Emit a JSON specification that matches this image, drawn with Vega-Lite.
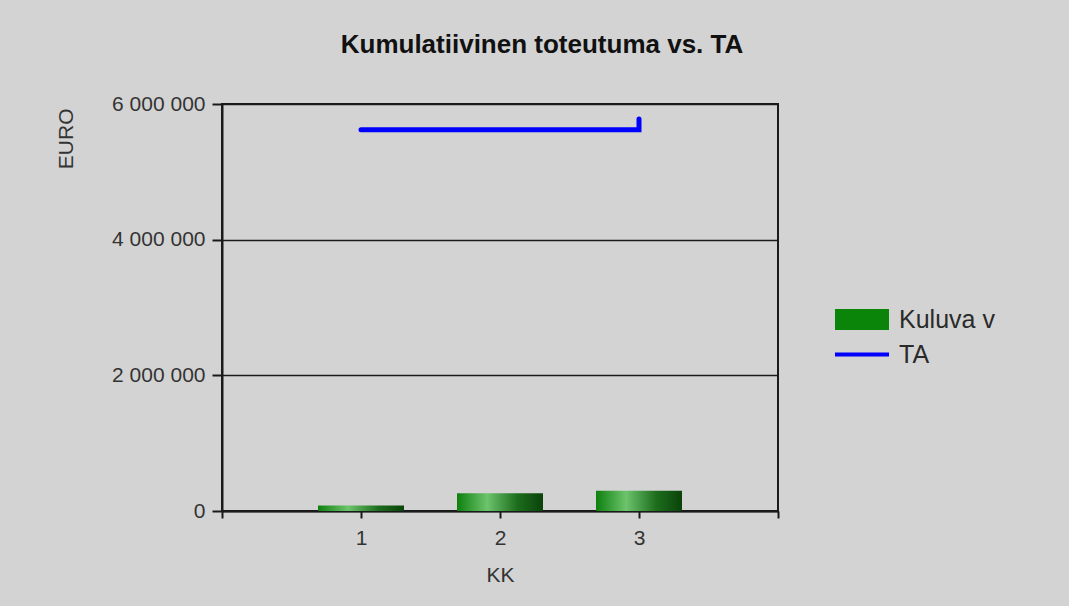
{
  "$schema": "https://vega.github.io/schema/vega-lite/v6.json",
  "autosize": "none",
  "width": 556,
  "height": 407,
  "padding": {"left": 222, "top": 104, "right": 291, "bottom": 95},
  "background": "#d3d3d3",
  "title": {
    "text": "Kumulatiivinen toteutuma vs. TA",
    "font": "Liberation Sans",
    "fontSize": 26,
    "fontWeight": "bold",
    "color": "#111111",
    "anchor": "middle",
    "dx": 42,
    "baseline": "alphabetic",
    "offset": 14
  },
  "config": {
    "locale": {"number": {"decimal": ",", "thousands": " ", "grouping": [3], "currency": ["", " €"]}},
    "view": {"stroke": "#1a1a1a", "strokeWidth": 2},
    "font": "Liberation Sans"
  },
  "data": {
    "values": [
      {"kk": 1, "series": "Kuluva v", "value": 80000, "ord": 1},
      {"kk": 2, "series": "Kuluva v", "value": 260000, "ord": 2},
      {"kk": 3, "series": "Kuluva v", "value": 300000, "ord": 3},
      {"kk": 1, "series": "TA", "value": 5620000, "ord": 1},
      {"kk": 2, "series": "TA", "value": 5620000, "ord": 2},
      {"kk": 3, "series": "TA", "value": 5620000, "ord": 3},
      {"kk": 3, "series": "TA", "value": 5780000, "ord": 4}
    ]
  },
  "encoding": {
    "x": {
      "field": "kk",
      "type": "quantitative",
      "scale": {"domain": [0, 4], "nice": false, "zero": false, "padding": 0},
      "axis": {
        "title": "KK",
        "values": [0, 1, 2, 3, 4],
        "labelExpr": "datum.value >= 1 && datum.value <= 3 ? datum.label : ''",
        "grid": false,
        "domainColor": "#1a1a1a",
        "domainWidth": 2,
        "tickColor": "#1a1a1a",
        "tickWidth": 2,
        "tickSize": 7,
        "labelFontSize": 21,
        "labelColor": "#333333",
        "labelBaseline": "middle",
        "labelPadding": 20,
        "labelFlush": false,
        "titleFontSize": 21,
        "titleFontWeight": "normal",
        "titleColor": "#333333",
        "titleBaseline": "middle",
        "titleY": 64
      }
    },
    "y": {
      "field": "value",
      "type": "quantitative",
      "scale": {"domain": [0, 6000000], "nice": false},
      "axis": {
        "title": "EURO",
        "values": [0, 2000000, 4000000, 6000000],
        "format": ",d",
        "grid": true,
        "gridColor": "#1a1a1a",
        "gridWidth": 1.5,
        "domainColor": "#1a1a1a",
        "domainWidth": 2,
        "tickColor": "#1a1a1a",
        "tickWidth": 2,
        "tickSize": 10,
        "labelPadding": 7,
        "labelFontSize": 21,
        "labelColor": "#333333",
        "titleFontSize": 21,
        "titleFontWeight": "normal",
        "titleColor": "#333333",
        "titleAngle": -90,
        "titleAlign": "right",
        "titleBaseline": "middle",
        "titleX": -156,
        "titleY": 4
      }
    }
  },
  "layer": [
    {
      "transform": [{"filter": "datum.series === 'Kuluva v'"}],
      "mark": {
        "type": "bar",
        "width": 86,
        "color": {
          "gradient": "linear",
          "x1": 0, "y1": 0, "x2": 1, "y2": 0,
          "stops": [
            {"offset": 0, "color": "#0e800e"},
            {"offset": 0.35, "color": "#6cc46c"},
            {"offset": 0.7, "color": "#1d6d1d"},
            {"offset": 1, "color": "#0a430a"}
          ]
        }
      }
    },
    {
      "transform": [{"filter": "datum.series === 'TA'"}],
      "mark": {"type": "line", "strokeWidth": 5, "strokeCap": "round", "strokeJoin": "miter"},
      "encoding": {
        "order": {"field": "ord", "type": "quantitative"},
        "color": {
          "field": "series",
          "type": "nominal",
          "scale": {"domain": ["Kuluva v", "TA"], "range": ["#0a850a", "#0000ff"]},
          "legend": {
            "orient": "none",
            "legendX": 611,
            "legendY": 203,
            "title": null,
            "padding": 0,
            "labelFontSize": 25,
            "labelColor": "#2a2a2a",
            "labelOffset": 41,
            "symbolSize": 441,
            "symbolStrokeWidth": 0,
            "rowPadding": 9,
            "encode": {
              "symbols": {
                "update": {
                  "shape": {"signal": "datum.value === 'TA' ? 'M-1,-0.19L4.143,-0.19L4.143,0.19L-1,0.19Z' : 'M-1,-1L4.143,-1L4.143,1L-1,1Z'"},
                  "fill": {"signal": "scale('color', datum.value)"},
                  "stroke": {"value": "transparent"},
                  "opacity": {"value": 1}
                }
              }
            }
          }
        }
      }
    }
  ]
}
